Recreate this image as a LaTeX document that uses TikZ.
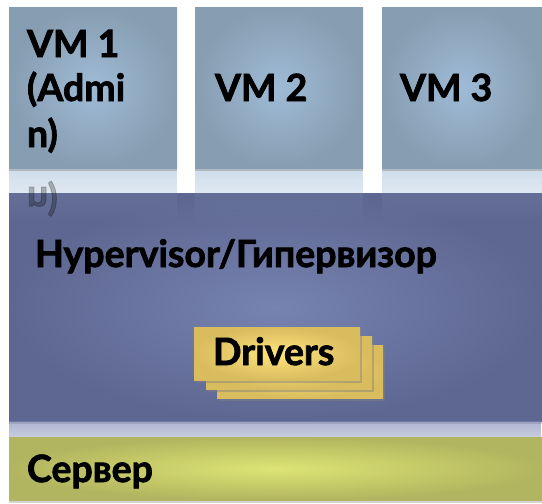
\documentclass[tikz,border=0pt]{standalone}
\usepackage{fontspec}
\setmainfont{Lato}[BoldFeatures={FakeBold=2}]
\usetikzlibrary{shadows,fadings}

\definecolor{vmIn}{HTML}{9EBBD6}
\definecolor{vmOut}{HTML}{879DB1}
\definecolor{hvIn}{HTML}{7682B0}
\definecolor{hvOut}{HTML}{5E6791}
\definecolor{drIn}{HTML}{FFE47C}
\definecolor{drOut}{HTML}{D8BC5E}
\definecolor{svIn}{HTML}{DDE474}
\definecolor{svOut}{HTML}{B2B55F}

\tikzfading[name=reflectfade, top color=transparent!40, bottom color=transparent!100]
\tikzfading[name=softfade, top color=transparent!90, bottom color=transparent!100]

\begin{document}
\begin{tikzpicture}[x=1pt, y=-1pt,
  every node/.style={inner sep=0pt, outer sep=0pt},
  vmbox/.style={inner color=vmIn, outer color=vmOut,
    drop shadow={opacity=0.4, shadow xshift=0pt, shadow yshift=-3pt}},
  hvbox/.style={inner color=hvIn, outer color=hvOut,
    drop shadow={opacity=0.35, shadow xshift=0pt, shadow yshift=-3pt}},
  drvbox/.style={inner color=drIn, outer color=drOut,
    drop shadow={opacity=0.45, shadow xshift=2pt, shadow yshift=-3pt}},
  svbox/.style={inner color=svIn, outer color=svOut,
    drop shadow={opacity=0.35, shadow xshift=0pt, shadow yshift=-3pt}},
  mirror/.style={path fading=reflectfade},
  softmirror/.style={path fading=softfade},
  lbl/.style={anchor=base west, font=\fontsize{37.5}{44}\bfseries\selectfont, text=black}
]
\useasboundingbox (0,0) rectangle (542,504);

% reflections of the virtual machines on the white ground
\fill[vmIn!85!white, mirror] (9,168) rectangle (177,240);
\fill[vmIn!85!white, mirror] (195,168) rectangle (363,240);
\fill[vmIn!85!white, mirror] (382,168) rectangle (542,240);

% hypervisor layer and its reflection
\path[hvbox] (9,193) rectangle (542,421);
\fill[hvIn, mirror] (9,421) rectangle (542,470);

% faint continuation of the reflections over the hypervisor
\fill[vmIn, softmirror] (9,193) rectangle (177,225);
\fill[vmIn, softmirror] (195,193) rectangle (363,225);
\fill[vmIn, softmirror] (382,193) rectangle (542,225);
\node[lbl, yscale=-1, text opacity=0.25] (refl) at (27,187) {n)};

% server layer
\path[svbox] (9,437) rectangle (542,500);

% virtual machines
\path[vmbox] (9,7) rectangle (177,168);
\path[vmbox] (195,7) rectangle (363,168);
\path[vmbox] (382,7) rectangle (542,168);

% driver stack
\path[drvbox] (217,345) rectangle (383,398);
\path[drvbox] (206,336) rectangle (372,389);
\path[drvbox] (194,327) rectangle (360,380);

% labels
\node[lbl] (vm1a) at (27,57) {VM 1};
\node[lbl] (vm1b) at (27,101) {(Admi};
\node[lbl] (vm1c) at (27,147) {n)};
\node[lbl] (vm2) at (215,101) {VM 2};
\node[lbl] (vm3) at (400,101) {VM 3};
\node[lbl] (hv) at (35,267) {Hypervisor/Гипервизор};
\node[lbl] (drv) at (213,365) {Drivers};
\node[lbl] (srv) at (27,482) {Сервер};
\end{tikzpicture}
\end{document}
